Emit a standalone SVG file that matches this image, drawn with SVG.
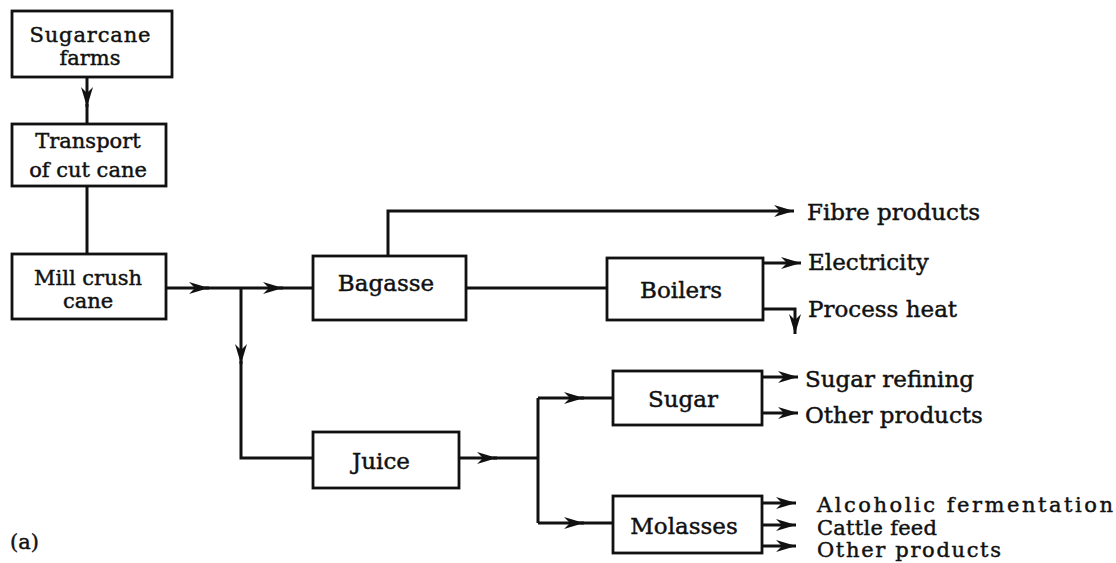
<svg xmlns="http://www.w3.org/2000/svg" width="1116" height="563" viewBox="0 0 1116 563">
<style>
.box{fill:#fff;stroke:#111;stroke-width:2.8}
.ln{fill:none;stroke:#111;stroke-width:3}
.ar{fill:none;stroke:#111;stroke-width:3;marker-end:url(#ah)}
text{font-family:"DejaVu Serif","Liberation Serif",serif;font-size:23px;fill:#111;stroke:#111;stroke-width:0.45}
.s{font-size:21px}
.c{text-anchor:middle}
</style>
<defs>
<marker id="ah" viewBox="-21 -7 22 14" refX="0" refY="0" markerWidth="22" markerHeight="14" markerUnits="userSpaceOnUse" orient="auto">
<path d="M-20,-6 L0,0 L-20,6 L-14,0 Z" fill="#111"/>
</marker>
</defs>
<rect width="1116" height="563" fill="#fff"/>
<g id="connectors">
<line class="ar" x1="87" y1="77" x2="87" y2="107"/>
<line class="ln" x1="87" y1="104" x2="87" y2="124"/>
<line class="ln" x1="87" y1="186" x2="87" y2="254"/>
<line class="ar" x1="166" y1="288" x2="209" y2="288"/>
<line class="ln" x1="205" y1="288" x2="241" y2="288"/>
<line class="ar" x1="241" y1="288" x2="283" y2="288"/>
<line class="ln" x1="279" y1="288" x2="313" y2="288"/>
<line class="ar" x1="241" y1="288" x2="241" y2="364"/>
<polyline class="ln" points="241,361 241,458 313,458"/>
<polyline class="ar" points="388,256 388,211 794,211"/>
<line class="ln" x1="466" y1="288" x2="607" y2="288"/>
<line class="ar" x1="763" y1="263" x2="801" y2="263"/>
<polyline class="ar" points="763,309 795,309 795,334"/>
<line class="ar" x1="459" y1="458" x2="497" y2="458"/>
<line class="ln" x1="493" y1="458" x2="538" y2="458"/>
<line class="ln" x1="538" y1="398" x2="538" y2="523"/>
<line class="ar" x1="538" y1="398" x2="584" y2="398"/>
<line class="ln" x1="580" y1="398" x2="613" y2="398"/>
<line class="ar" x1="538" y1="523" x2="584" y2="523"/>
<line class="ln" x1="580" y1="523" x2="613" y2="523"/>
<line class="ar" x1="762" y1="377" x2="798" y2="377"/>
<line class="ar" x1="762" y1="413" x2="798" y2="413"/>
<line class="ar" x1="762" y1="503" x2="796" y2="503"/>
<line class="ar" x1="762" y1="525" x2="796" y2="525"/>
<line class="ar" x1="762" y1="546" x2="796" y2="546"/>
</g>
<g id="sugarcane-farms">
<rect class="box" x="12" y="11" width="160" height="66"/>
<text class="c s" x="90" y="42" textLength="121" lengthAdjust="spacing">Sugarcane</text>
<text class="c s" x="90" y="65">farms</text>
</g>
<g id="transport">
<rect class="box" x="12" y="124" width="154" height="62"/>
<text class="c s" x="88" y="148">Transport</text>
<text class="c s" x="88" y="177">of cut cane</text>
</g>
<g id="mill">
<rect class="box" x="12" y="254" width="154" height="65"/>
<text class="c s" x="88" y="285">Mill crush</text>
<text class="c s" x="88" y="308">cane</text>
</g>
<g id="bagasse">
<rect class="box" x="313" y="256" width="153" height="64"/>
<text class="c" x="386" y="291">Bagasse</text>
</g>
<g id="boilers">
<rect class="box" x="607" y="258" width="156" height="62"/>
<text class="c" x="681" y="298">Boilers</text>
</g>
<g id="juice">
<rect class="box" x="313" y="432" width="146" height="56"/>
<text class="c" x="381" y="469">Juice</text>
</g>
<g id="sugar">
<rect class="box" x="613" y="371" width="149" height="54"/>
<text class="c" x="683" y="407">Sugar</text>
</g>
<g id="molasses">
<rect class="box" x="613" y="496" width="149" height="57"/>
<text class="c" x="684" y="534">Molasses</text>
</g>
<g id="outputs">
<text x="807" y="220">Fibre products</text>
<text x="808" y="270">Electricity</text>
<text x="808" y="317">Process heat</text>
<text x="805" y="387">Sugar refining</text>
<text x="805" y="423">Other products</text>
<text class="s" x="817" y="512" textLength="296" lengthAdjust="spacing">Alcoholic  fermentation</text>
<text class="s" x="817" y="535" textLength="120" lengthAdjust="spacing">Cattle feed</text>
<text class="s" x="817" y="557" textLength="184" lengthAdjust="spacing">Other products</text>
<text class="s" x="10" y="549">(a)</text>
</g>
</svg>
